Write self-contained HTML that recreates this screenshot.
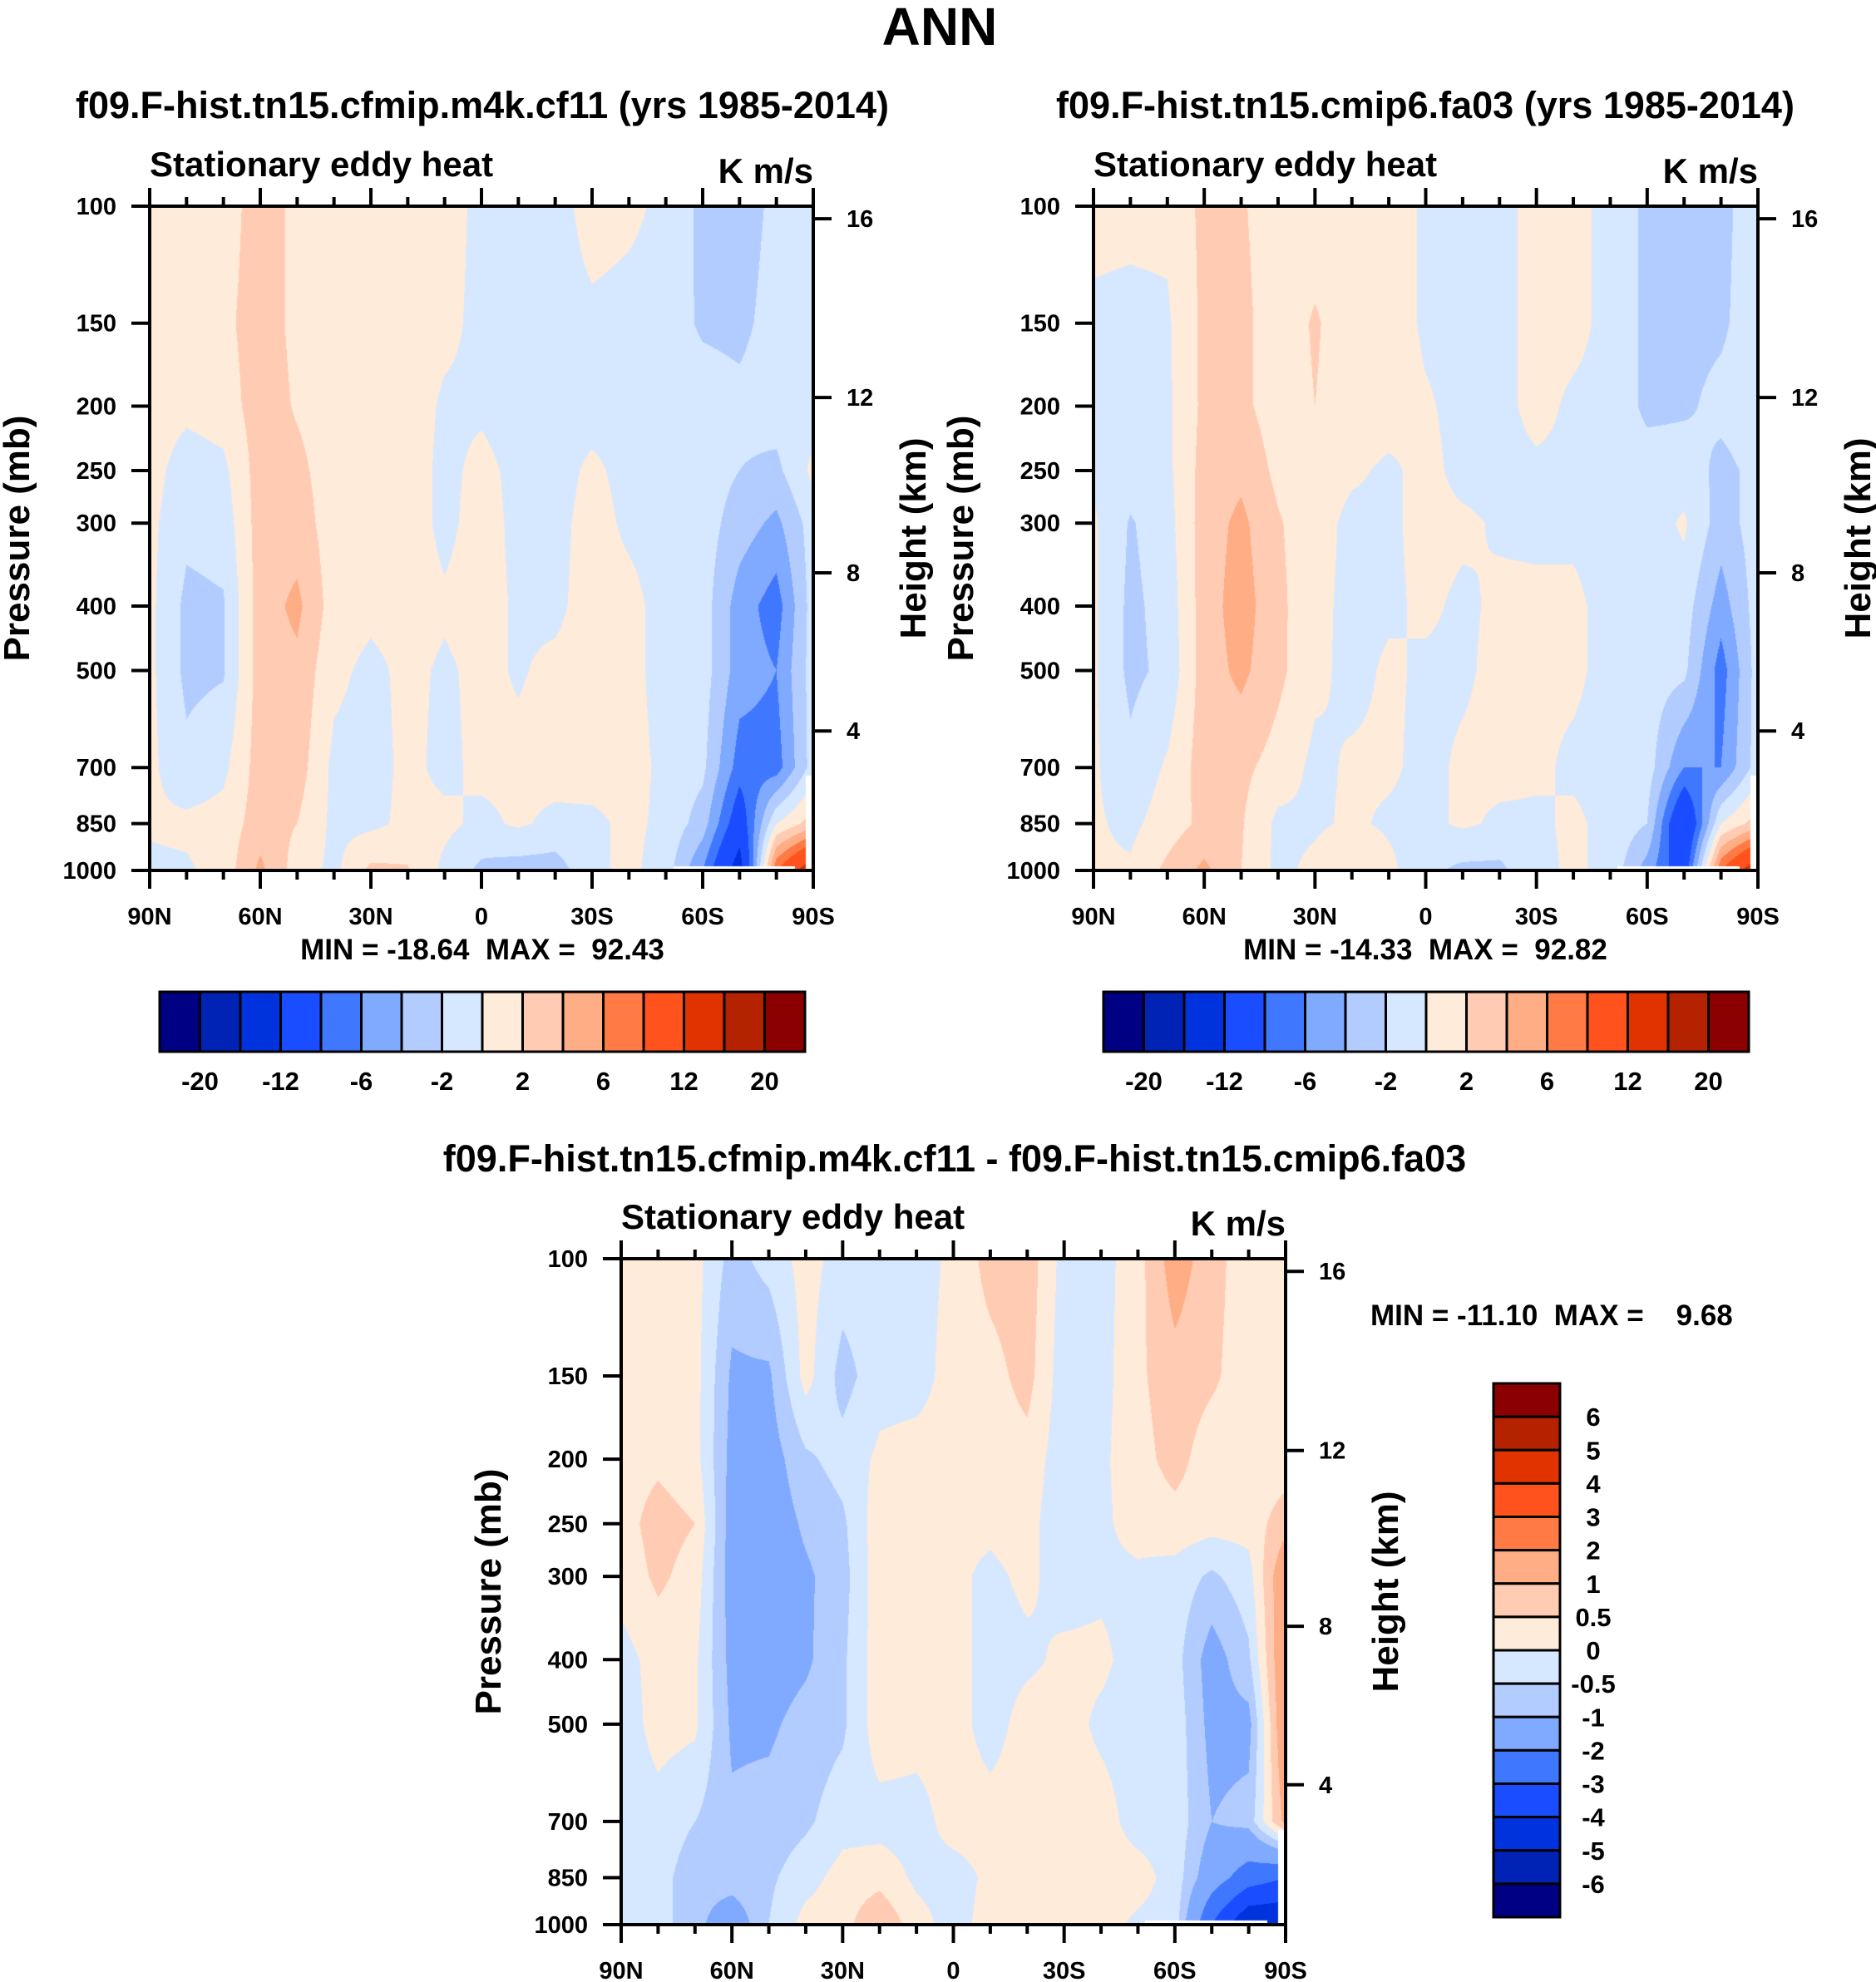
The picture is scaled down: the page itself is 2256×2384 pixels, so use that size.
<!DOCTYPE html>
<html><head><meta charset="utf-8">
<style>
html,body{margin:0;padding:0;background:#fff;}
#page{position:relative;width:2256px;height:2384px;overflow:hidden;background:#fff;font-family:"Liberation Sans",Arial,sans-serif;}
canvas{position:absolute;}
#overlay{position:absolute;left:0;top:0;}
text{white-space:pre;}
</style></head>
<body>
<div id="page">
<canvas id="cvA" style="left:180px;top:248px" width="798" height="799"></canvas>
<canvas id="cvB" style="left:1315px;top:248px" width="799" height="799"></canvas>
<canvas id="cvC" style="left:747px;top:1514px" width="799" height="801"></canvas>
<svg id="overlay" width="2256" height="2384" xmlns="http://www.w3.org/2000/svg"></svg>
</div>
<script>
// ---- data ----
const levels = [100,150,200,250,300,400,500,700,850,1000];
const lats = [90,80,70,60,50,40,30,20,10,0,-10,-20,-30,-40,-50,-60,-70,-80,-90];
const boundsAB = [-20,-16,-12,-8,-6,-4,-2,0,2,4,6,8,12,16,20];
const boundsC = [-6,-5,-4,-3,-2,-1,-0.5,0,0.5,1,2,3,4,5,6];
const colorsRamp = ["#000085","#0022B5","#0033DD","#1A4DFF","#4077FF","#80AAFF","#B3CCFF","#D6E8FF","#FFEBD9","#FFCCB3","#FFAD85","#FF7A45","#FF521C","#E03300","#B52200","#8B0000"];
const barLabelsAB = ["-20","-12","-6","-2","2","6","12","20"];
const barLabelsC = ["-6","-5","-4","-3","-2","-1","-0.5","0","0.5","1","2","3","4","5","6"];
const xTickLabels = ["90N","60N","30N","0","30S","60S","90S"];
const pTickLabels = [100,150,200,250,300,400,500,700,850,1000];
const hTickLabels = [16,12,8,4];
const hTickFrac = [0.019,0.288,0.552,0.79];
const valuesA = [
[1,1,1,0.8,0.5,0.5,0.5,0.5,0.3,-0.5],
[1,1,0.5,-1,-1.5,-2.5,-2.5,-1.5,0.5,-0.3],
[1,1.5,1,-0.5,-1.2,-2.2,-2.2,-0.5,0.8,0.8],
[3,3,3,3,3,3,3,3,3,4.5],
[1.5,1.5,1.8,2.5,3,4.5,3.5,3,2,1],
[1,1,1,1,1,1,0.5,-0.5,-0.5,-0.5],
[1,1,1,0.8,0.8,0.5,-0.5,-0.8,-0.5,2.5],
[1,1,1,1,1,0.8,0.5,0.5,0.5,2.2],
[0.8,0.5,-0.3,-0.5,-0.5,0.3,-0.3,-0.5,0.5,-0.5],
[-0.5,-0.5,-0.3,0.5,0.8,0.8,0.5,0.5,-0.5,-2.5],
[-1,-1,-0.8,-0.5,-0.5,-0.3,-0.2,0.5,0.3,-3],
[-1,-1,-1,-1,-0.8,-0.5,0.5,0.8,-0.5,-3],
[1,-0.5,-1,0.5,1,1,1,1,-0.5,-0.5],
[0.5,-0.8,-1,-0.8,-0.5,0.8,0.8,0.8,0.5,0.5],
[-0.5,-1,-1,-1,-1,-1,-1,-0.5,-0.5,-1],
[-2.5,-2.3,-1,-1,-1,-1,-1,-1.5,-3,-6],
[-3,-2.5,-1.5,-2,-3,-5,-5,-7,-10,-14],
[-1.5,-1.2,-1,-2.5,-4.5,-7,-6,-7,0,8],
[-1,-1,-1,0.5,-1,-1,-1,-1,3,15]
];
const valuesB = [
[0.5,-0.3,-0.3,-0.3,0.3,0.3,0.3,0.3,0.3,0.3],
[0.5,-0.5,-0.6,-1,-2.2,-2.5,-2.5,-1.5,-0.5,0.3],
[0.5,-0.3,-0.4,-0.5,-0.8,-1.2,-1.5,0.3,1,2.5],
[2.5,2.5,2.5,2.8,3,3,3,3,2.5,4.5],
[2.2,2.5,2.5,3.5,4.5,5,4.5,2.5,2.2,2],
[1,1,1,1.5,2.2,2.5,2.5,1.2,-0.5,-0.5],
[1,2.2,2,1,0.8,0.6,0.5,-0.5,-0.3,0.5],
[1,1,1,0.3,-0.5,-0.6,-0.6,0.3,0.3,2],
[1,1,0.8,-0.3,-0.3,-0.3,0.3,0.3,-0.3,0.5],
[-0.3,-0.3,0.2,0.5,0.5,0.3,-0.3,-0.5,-0.5,-1.5],
[-0.5,-0.5,-0.5,-0.5,0.3,-0.3,-0.3,0.3,0.3,-2.5],
[-0.5,-0.5,-0.5,-0.5,-0.2,0.3,0.5,0.5,-0.3,-2.5],
[0.5,0.5,0.5,-0.3,-0.3,0.3,0.3,0.3,-0.3,-0.5],
[0.5,0.5,-0.3,-0.3,-0.3,0.3,0.3,-0.3,0.3,0.3],
[-0.5,-0.5,-0.5,-0.5,-0.5,-0.5,-0.5,-0.5,-0.5,-0.5],
[-2.5,-2.5,-2.5,-1,-1,-1,-1,-1,-2,-5],
[-2.5,-2.5,-2.3,-1,0.3,-1,-1.5,-6,-12,-10],
[-2.5,-2.3,-1.5,-2.5,-3,-5,-7,-6,0,8],
[-1,-1,-1,-1.5,-1,-1,-1,-1,3,15]
];
const valuesC = [
[0.3,0.3,0.3,0.3,0.2,-0.2,-0.3,-0.3,-0.2,-0.2],
[0.3,0.3,0.4,0.7,0.6,0.2,0.2,-0.2,-0.3,-0.3],
[0.2,0.2,0.2,0.5,0.3,0.1,0.1,-0.5,-0.8,-0.8],
[-0.7,-1.1,-1.2,-1.3,-1.3,-1.2,-1.1,-0.9,-0.7,-1.5],
[-0.3,-1.1,-1.3,-1.4,-1.4,-1.3,-1.1,-0.8,-0.6,-0.5],
[0.2,0.2,-0.6,-0.9,-1.1,-1.1,-0.8,-0.6,-0.2,0.2],
[-0.2,-0.7,-0.3,-0.6,-0.7,-0.6,-0.6,-0.2,0.2,0.3],
[-0.2,-0.2,0.1,0.3,0.3,0.3,0.3,-0.2,0.3,1.0],
[-0.2,-0.2,0.2,0.3,0.3,0.2,0.2,-0.2,-0.1,0.2],
[0.1,0.2,0.2,0.1,0.1,0.2,0.2,0.2,-0.2,-0.2],
[0.7,0.3,0.2,0.1,-0.1,-0.2,-0.2,0.2,0.1,0.2],
[0.8,0.7,0.3,0.2,0.1,-0.1,0.2,0.2,0.1,0.1],
[-0.2,-0.3,-0.3,-0.4,-0.2,0.1,0.2,0.2,0.2,0.2],
[-0.2,-0.2,-0.1,-0.1,-0.1,0.1,-0.1,0.2,0.2,0.2],
[0.3,0.4,0.3,0.2,-0.1,-0.2,-0.2,-0.2,0.2,-0.1],
[1.3,0.8,0.7,0.3,-0.2,-0.3,-0.2,-0.2,-0.2,-0.2],
[0.7,0.6,0.2,0.2,-0.6,-1.3,-1.2,-1,-1.5,-3],
[0.2,0.2,0.2,0.2,-0.2,-0.6,-1.2,-0.8,-2.5,-5],
[0.2,0.2,0.2,0.8,1.6,1.7,1.7,1.2,-3,-5]
];

const logLev = levels.map(p=>Math.log10(p));
function yFrac(p){return (Math.log10(p)-2);}
function xFrac(lat){return (90-lat)/180;}
function sample(vals, lat, p){
  let li=(90-lat)/10; let i0=Math.min(17,Math.max(0,Math.floor(li))); let fx=li-i0;
  const lp=Math.log10(p); let j0=0;
  for(let j=0;j<levels.length-1;j++){ if(lp>=logLev[j]) j0=j; }
  let fy=(lp-logLev[j0])/(logLev[j0+1]-logLev[j0]); fy=Math.max(0,Math.min(1,fy));
  const a=vals[i0][j0], b=vals[i0+1][j0], c=vals[i0][j0+1], d=vals[i0+1][j0+1];
  return (a*(1-fx)+b*fx)*(1-fy)+(c*(1-fx)+d*fx)*fy;
}
function hexRGB(h){return [parseInt(h.substr(1,2),16),parseInt(h.substr(3,2),16),parseInt(h.substr(5,2),16)];}
const rgbRamp = colorsRamp.map(hexRGB);
function bin(v,bounds){let k=0; while(k<bounds.length && v>=bounds[k]) k++; return k;}
function renderField(id, vals, bounds, groundMask){
  const cv=document.getElementById(id), ctx=cv.getContext('2d');
  const W=cv.width,H=cv.height, img=ctx.createImageData(W,H);
  for(let y=0;y<H;y++){
    const p=100*Math.pow(10,(y+0.5)/H);
    for(let x=0;x<W;x++){
      const lat=90-180*(x+0.5)/W;
      let c=rgbRamp[bin(sample(vals,lat,p),bounds)];
      if(groundMask && ((lat<-88 && p>720) || (lat<-52 && lat>-85 && p>985))) c=[255,255,255];
      const o=(y*W+x)*4; img.data[o]=c[0];img.data[o+1]=c[1];img.data[o+2]=c[2];img.data[o+3]=255;
    }
  }
  ctx.putImageData(img,0,0);
}
renderField('cvA',valuesA,boundsAB,true);
renderField('cvB',valuesB,boundsAB,true);
renderField('cvC',valuesC,boundsC,true);

const NS="http://www.w3.org/2000/svg";
const svg=document.getElementById('overlay');
function el(tag,attrs,parent){const e=document.createElementNS(NS,tag);for(const k in attrs)e.setAttribute(k,attrs[k]);(parent||svg).appendChild(e);return e;}
function txt(s,x,y,size,anchor,parent,extra){const t=el('text',Object.assign({x:x,y:y,'font-size':size,'font-weight':'bold','text-anchor':anchor||'middle','font-family':'"Liberation Sans", Arial, sans-serif',fill:'#000'},extra||{}),parent);t.textContent=s;return t;}

function drawAxes(name,x0,y0,w,h){
  const g=el('g',{});
  
  
  for(let lat=90;lat>=-90;lat-=10){
    const x=x0+xFrac(lat)*w; const major=(lat%30===0); const L=major?22:11;
    el('line',{x1:x,y1:y0,x2:x,y2:y0-L,stroke:'#000','stroke-width':4},g);
    el('line',{x1:x,y1:y0+h,x2:x,y2:y0+h+L,stroke:'#000','stroke-width':4},g);
  }
  xTickLabels.forEach((s,i)=>{
    const t=txt(s,x0+i*w/6,y0+h+65,29,'middle',g);
    
    
  });
  pTickLabels.forEach(p=>{
    const y=y0+yFrac(p)*h;
    el('line',{x1:x0,y1:y,x2:x0-22,y2:y,stroke:'#000','stroke-width':4},g);
    const t=txt(String(p),x0-40,y+10,29,'end',g);
    
    
  });
  hTickLabels.forEach((hv,i)=>{
    const y=y0+hTickFrac[i]*h;
    el('line',{x1:x0+w,y1:y,x2:x0+w+22,y2:y,stroke:'#000','stroke-width':4},g);
    const t=txt(String(hv),x0+w+40,y+10,29,'start',g);
    
    
  });
  el('rect',{x:x0,y:y0,width:w,height:h,fill:'none',stroke:'#000','stroke-width':4},g);
  const yl=txt('Pressure (mb)',0,0,44,'middle',g,{transform:`translate(${x0-145},${y0+h/2}) rotate(-90)`});
  
  
  const hl=txt('Height (km)',0,0,44,'middle',g,{transform:`translate(${x0+w+135},${y0+h/2}) rotate(-90)`});
  
  
  const lt=txt('Stationary eddy heat',x0,y0-36,42,'start',g);
  
  
  const rt=txt('K m/s',x0+w,y0-28,42,'end',g);
  
  
}
drawAxes('panel-a',180,248,798,799);
drawAxes('panel-b',1315,248,799,799);
drawAxes('panel-c',747,1514,799,801);

const tMain=txt('ANN',1130,54,64,'middle');


const tA=txt('f09.F-hist.tn15.cfmip.m4k.cf11 (yrs 1985-2014)',580,142,45,'middle');


const tB=txt('f09.F-hist.tn15.cmip6.fa03 (yrs 1985-2014)',1714,142,45,'middle');


const tC=txt('f09.F-hist.tn15.cfmip.m4k.cf11 - f09.F-hist.tn15.cmip6.fa03',1148,1409,45,'middle');


const mA=txt('MIN = -18.64  MAX =  92.43',580,1154,35,'middle');


const mB=txt('MIN = -14.33  MAX =  92.82',1714,1154,35,'middle');


const mC=txt('MIN = -11.10  MAX =    9.68',1648,1594,35,'start');



function hBar(name,x0,y0,w,h){
  const g=el('g',{});
  
  
  const bw=w/colorsRamp.length;
  colorsRamp.forEach((c,i)=>{
    const r=el('rect',{x:x0+i*bw,y:y0,width:bw,height:h,fill:c,stroke:'#000','stroke-width':3},g);
    
    
  });
  barLabelsAB.forEach((s,i)=>{
    const t=txt(s,x0+(1+2*i)*bw,y0+h+46,31,'middle',g);
    
    
  });
}
hBar('colorbar-panel-a',192,1193,776,72);
hBar('colorbar-panel-b',1327,1193,776,72);
(function(){
  const g=el('g',{});
  
  
  const x0=1796,y0=1664,w=80,hTot=642,bh=hTot/16;
  for(let i=0;i<16;i++){
    const r=el('rect',{x:x0,y:y0+i*bh,width:w,height:bh,fill:colorsRamp[15-i],stroke:'#000','stroke-width':3},g);
    
    
  }
  for(let i=0;i<15;i++){
    const t=txt(barLabelsC[14-i],1916,y0+(i+1)*bh+11,31,'middle',g);
    
    
  }
})();
</script>
</body></html>
